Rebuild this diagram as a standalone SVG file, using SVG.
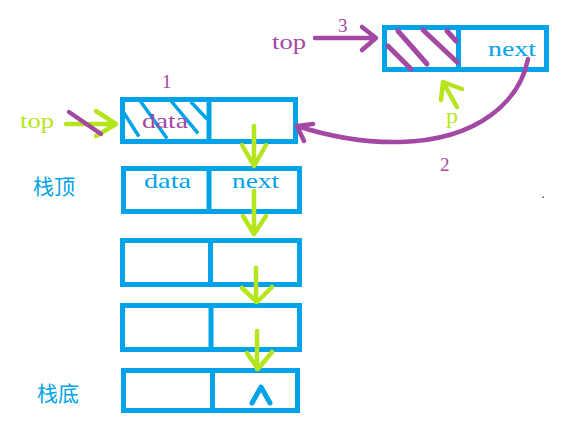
<svg xmlns="http://www.w3.org/2000/svg" width="571" height="431" viewBox="0 0 571 431">
<style>
.box{fill:none;stroke:#00a2e8;stroke-width:5}
.div{stroke:#00a2e8;stroke-width:5}
.hb{stroke:#00a2e8;stroke-width:3.5;stroke-linecap:square}
.hp{stroke:#a349a4;stroke-width:5;stroke-linecap:round}
.g{fill:none;stroke:#b5e61d;stroke-width:4.5;stroke-linecap:round;stroke-linejoin:round}
.p{fill:none;stroke:#a349a4;stroke-width:4.5;stroke-linecap:round;stroke-linejoin:round}
.mono{font-family:"Liberation Serif","DejaVu Serif",serif;font-size:21px}
.num{font-family:"Liberation Serif","DejaVu Serif",serif;font-size:19px;fill:#a349a4}
.cjk{font-family:"Noto Sans CJK SC","Noto Sans",sans-serif;font-size:21px;fill:#00a2e8}
.tb{fill:#00a2e8}
.tp{fill:#a349a4}
.tg{fill:#b5e61d}
</style>
<rect width="571" height="431" fill="#ffffff"/>

<g id="node-new">
<rect class="box" x="122.5" y="99.5" width="173" height="42"/>
<line class="div" x1="209" y1="99" x2="209" y2="142"/>
<line class="hb" x1="124" y1="113" x2="138" y2="135"/>
<line class="hb" x1="141" y1="102" x2="166" y2="137"/>
<line class="hb" x1="172" y1="102" x2="197" y2="132"/>
<line class="hb" x1="192" y1="103" x2="206" y2="118"/>
<text class="mono tp" x="142" y="128" textLength="46" lengthAdjust="spacingAndGlyphs">data</text>
<text class="num" x="162" y="88">1</text>
</g>

<g id="node-top">
<rect class="box" x="123.5" y="168.5" width="176" height="43"/>
<line class="div" x1="209" y1="168" x2="209" y2="212"/>
<text class="mono tb" x="144" y="188" textLength="47" lengthAdjust="spacingAndGlyphs">data</text>
<text class="mono tb" x="232" y="188" textLength="47" lengthAdjust="spacingAndGlyphs">next</text>
<text class="cjk" x="33" y="194">栈顶</text>
</g>

<g id="node-3">
<rect class="box" x="122.5" y="240.5" width="177" height="44"/>
<line class="div" x1="210.5" y1="240" x2="210.5" y2="285"/>
</g>

<g id="node-4">
<rect class="box" x="122.5" y="305.5" width="177" height="44"/>
<line class="div" x1="211" y1="305" x2="211" y2="350"/>
</g>

<g id="node-bottom">
<rect class="box" x="123.5" y="370.5" width="174" height="40"/>
<line class="div" x1="212.5" y1="370" x2="212.5" y2="411"/>
<polyline points="252,403 261,387 270,403" fill="none" stroke="#00a2e8" stroke-width="5" stroke-linecap="round" stroke-linejoin="round"/>
<text class="cjk" x="37" y="401">栈底</text>
</g>

<g id="node-p">
<rect class="box" x="384.5" y="27.5" width="162" height="42"/>
<line class="div" x1="458.5" y1="27" x2="458.5" y2="70"/>
<line class="hp" x1="388" y1="46" x2="411" y2="69"/>
<line class="hp" x1="398" y1="31" x2="427" y2="64"/>
<line class="hp" x1="423" y1="30" x2="457" y2="62"/>
<line class="hp" x1="447" y1="31" x2="456" y2="41"/>
<text class="mono tb" x="488" y="56" textLength="48" lengthAdjust="spacingAndGlyphs">next</text>
</g>

<g id="labels">
<text class="mono tg" x="20" y="128" textLength="34" lengthAdjust="spacingAndGlyphs">top</text>
<text class="mono tp" x="272" y="49" textLength="34" lengthAdjust="spacingAndGlyphs">top</text>
<text class="num" x="338" y="32">3</text>
<text class="mono tg" x="446" y="123" textLength="12" lengthAdjust="spacingAndGlyphs">p</text>
<text class="num" x="440" y="171">2</text>
<rect x="542.5" y="196.5" width="1.5" height="1.5" fill="#555555"/>
</g>

<g id="connectors">
<path class="g" d="M66,124 H116 M96,111 L116,124 L96,136"/>
<line class="p" x1="69" y1="112" x2="101" y2="134"/>
<path class="g" d="M254,126 V166 M242,145 L254,166 L266,145"/>
<path class="g" d="M254,191 V234 M243,216 L254,234 L266,216"/>
<path class="g" d="M256,268 V302 M242,288 L257,302 L272,287"/>
<path class="g" d="M257,331 V369 M247,353 L258,369 L272,352"/>
<path class="g" d="M457,107 L443,82 M441,100 L443,82 L462,89"/>
<path class="p" d="M315,38 H375 M362,27 L376,38 L362,50"/>
<path class="p" d="M528,59 C520,100 480,140 400,142 C360,143 325,135 297,126 M313,124 L297,126 L304,141"/>
</g>
</svg>
